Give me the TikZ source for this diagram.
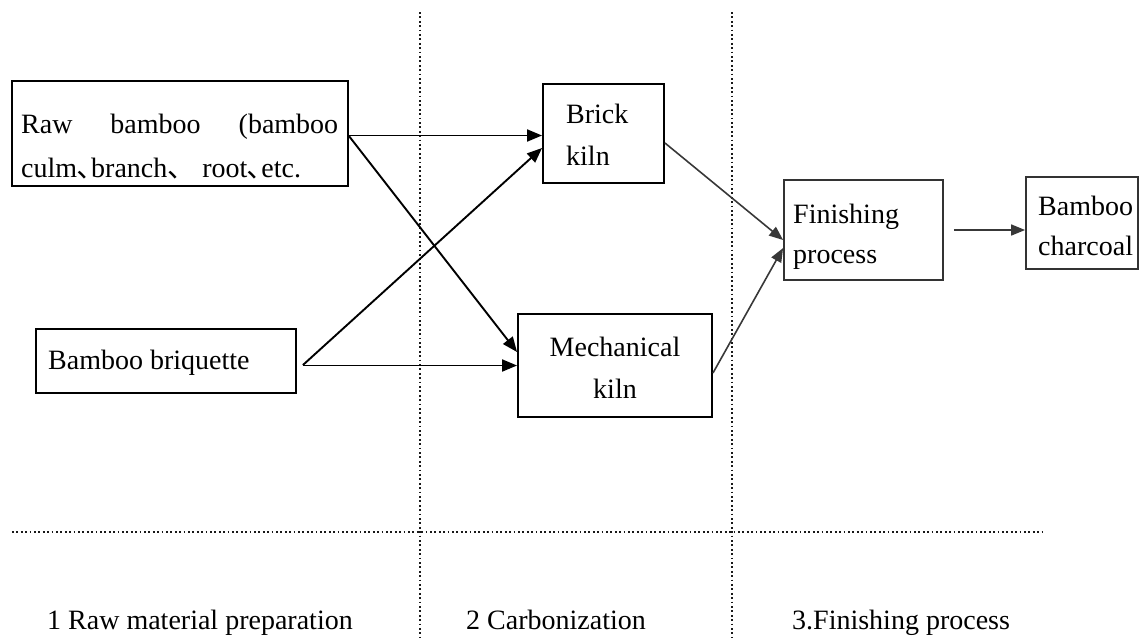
\documentclass[tikz,border=0pt]{standalone}
\usepackage{fontspec}
\setmainfont{Liberation Serif}
\newfontfamily\cjkfont{Noto Sans CJK SC}
\usetikzlibrary{arrows.meta}
\begin{document}
\begin{tikzpicture}[x=1pt,y=-1pt,
  box/.style={draw=black,line width=1.9pt,rectangle,inner sep=0pt},
  gbox/.style={draw=black!80,line width=1.8pt,rectangle,inner sep=0pt},
  txt/.style={inner sep=0pt,font=\fontsize{28}{42}\selectfont},
  arr/.style={draw=black,line width=1.9pt,-{Triangle[length=15pt,width=12pt]}},
  garr/.style={draw=black!78,line width=1.6pt,-{Triangle[length=14pt,width=11pt]}},
  sep/.style={draw=black!90,line width=2pt,dash pattern=on 1.8pt off 2.6pt}]
\useasboundingbox (0,0) rectangle (1139,638);

% dividers
\draw[sep] (420,12) -- (420,638);
\draw[sep] (732,12) -- (732,638);
\draw[sep] (12,532) -- (1042,532);

% boxes
\node[box,minimum width=336pt,minimum height=105pt] (raw) at (180,133.5) {};
\node[box,minimum width=121pt,minimum height=99pt] (brick) at (603.5,133.5) {};
\node[box,minimum width=260pt,minimum height=64pt] (briq) at (166,361) {};
\node[box,minimum width=194pt,minimum height=103pt] (mech) at (615,365.5) {};
\node[gbox,minimum width=159pt,minimum height=100pt] (fin) at (863.5,230) {};
\node[gbox,minimum width=112pt,minimum height=92pt] (char) at (1082,223) {};

% box texts
\node[txt,anchor=base west,font=\fontsize{28}{44}\selectfont] (rawtxt) at (21,133)
  {\begin{tabular}[t]{@{}l@{}}\makebox[317pt][s]{Raw bamboo (bamboo}\\culm{\cjkfont ､}branch{\cjkfont 、} root{\cjkfont ､}etc.\end{tabular}};
\node[txt,anchor=base west] (bricktxt) at (566,123)
  {\begin{tabular}[t]{@{}l@{}}Brick\\kiln\end{tabular}};
\node[txt,anchor=base west] (briqtxt) at (48,369) {Bamboo briquette};
\node[txt,anchor=base] (mechtxt) at (615,356)
  {\begin{tabular}[t]{@{}c@{}}Mechanical\\kiln\end{tabular}};
\node[txt,anchor=base west,font=\fontsize{28}{40}\selectfont] (fintxt) at (793,223)
  {\begin{tabular}[t]{@{}l@{}}Finishing\\process\end{tabular}};
\node[txt,anchor=base west,font=\fontsize{28}{40}\selectfont] (chartxt) at (1038,215)
  {\begin{tabular}[t]{@{}l@{}}Bamboo\\charcoal\end{tabular}};

% stage labels
\node[txt,anchor=base west] (lab1) at (47,629) {1 Raw material preparation};
\node[txt,anchor=base west] (lab2) at (466,629) {2 Carbonization};
\node[txt,anchor=base west] (lab3) at (792,629) {3.Finishing process};

% connectors
\draw[arr] ([yshift=-2pt]raw.east) -- ([yshift=-2pt]brick.west);
\draw[arr] ([yshift=-2.5pt]raw.east) -- ([yshift=13.5pt]mech.west);
\draw[arr] ([xshift=6pt,yshift=-4pt]briq.east) -- ([yshift=-14.5pt]brick.west);
\draw[arr] ([xshift=6pt,yshift=-4.5pt]briq.east) -- (mech.west);
\draw[garr] ([yshift=-9.5pt]brick.east) -- ([yshift=-10pt]fin.west);
\draw[garr] ([yshift=-7.5pt]mech.east) -- ([yshift=-18pt]fin.west);
\draw[garr] ([xshift=10pt]fin.east) -- ([yshift=-7pt]char.west);
\end{tikzpicture}
\end{document}
